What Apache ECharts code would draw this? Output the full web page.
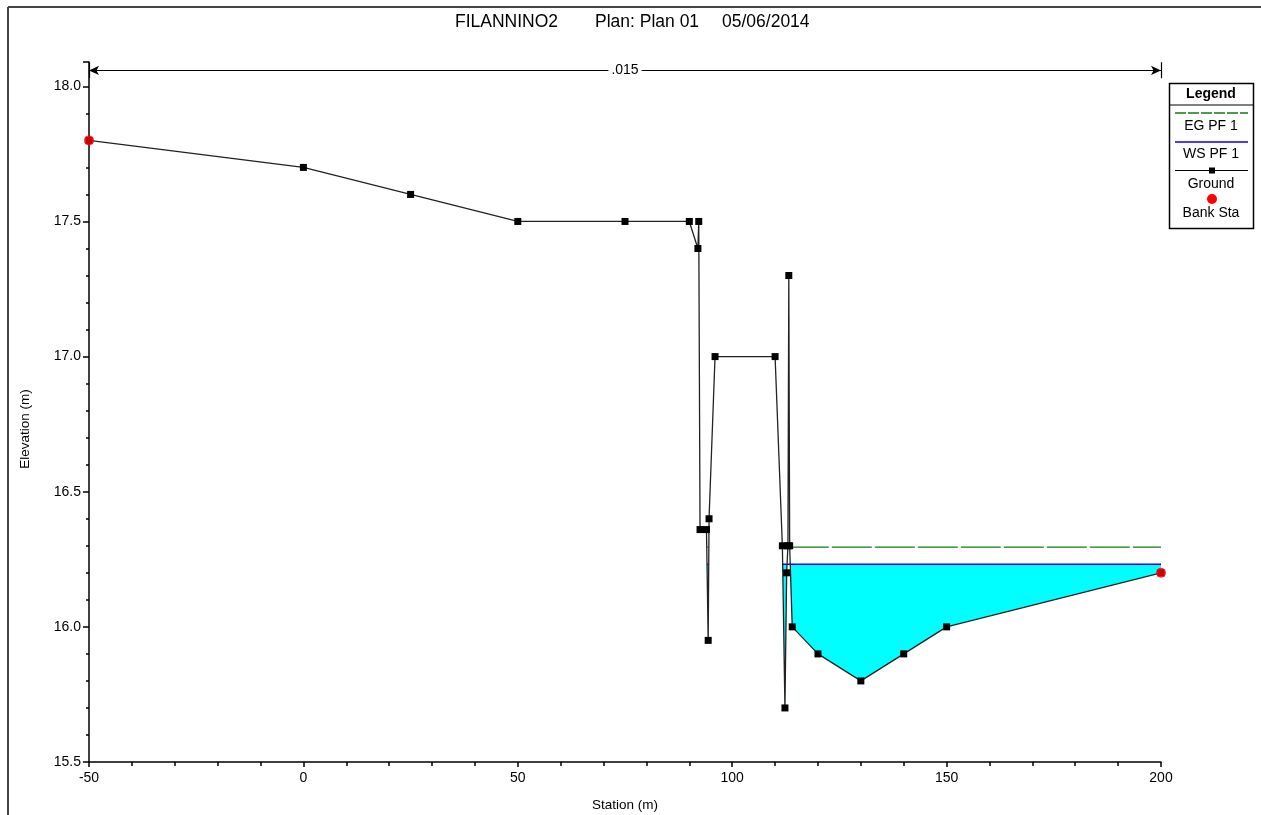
<!DOCTYPE html>
<html>
<head>
<meta charset="utf-8">
<script src="https://cdn.jsdelivr.net/npm/echarts@6/dist/echarts.min.js"></script>
<style>html,body{margin:0;padding:0;background:#fff;}#c{width:1261px;height:815px;}</style>
</head>
<body>
<div id="c"></div>
<script>
// ---- data ----
var groundStation = [-50, 0, 25, 50, 75, 90, 92, 92.2, 92.5, 94, 94.4, 94.6, 96, 110, 111.7, 112.3, 112.7, 113.0, 113.2, 113.4, 114, 120, 130, 140, 150, 200];
var groundElev    = [17.8, 17.7, 17.6, 17.5, 17.5, 17.5, 17.4, 17.5, 16.36, 16.36, 15.95, 16.4, 17.0, 17.0, 16.3, 15.7, 16.2, 16.3, 17.3, 16.3, 16.0, 15.9, 15.8, 15.9, 16.0, 16.2];
var bankStation = [-50, 200];
var bankElev    = [17.8, 16.2];
var wsElev = 16.232;          // WS PF 1
var egElev = 16.295;          // EG PF 1
var wsReaches = [[94.125, 94.525], [111.77, 200]];
var egReaches = [[94.2, 94.5], [113.2, 200]];
// water polygons (station, elevation)
var waterPolys = [
  [[94.125, 16.232], [94.4, 15.95], [94.525, 16.232]],
  [[111.77, 16.232], [112.3, 15.7], [112.7, 16.2], [112.8, 16.232]],
  [[113.54, 16.232], [200, 16.232], [200, 16.2], [150, 16.0], [140, 15.9], [130, 15.8], [120, 15.9], [114, 16.0]]
];
var manningN = '.015';
var nStart = -50, nEnd = 200;
var xTicks = {min: -50, max: 200, interval: 50};
var yTicks = {min: 15.5, max: 18.09, interval: 0.5};

var FONT = '"Liberation Sans", Arial, sans-serif';

function pairs(xs, ys) { return xs.map(function (x, i) { return [x, ys[i]]; }); }

var series = [];
series.push({
  type: 'custom', name: 'water', z: 1, silent: true,
  coordinateSystem: 'cartesian2d',
  data: waterPolys.map(function (p, i) { return [p[0][0], p[0][1], i]; }),
  renderItem: function (params, api) {
    var poly = waterPolys[params.dataIndex];
    return {
      type: 'polygon',
      shape: { points: poly.map(function (pt) { return api.coord(pt); }) },
      style: { fill: '#00ffff', stroke: null }
    };
  },
  clip: true
});
egReaches.forEach(function (r) {
  series.push({
    type: 'line', name: 'EG PF 1', z: 2, silent: true, symbol: 'none',
    data: [[r[0], egElev], [r[1], egElev]],
    lineStyle: { color: '#0f7f0f', width: 1.3, type: [40, 3] }
  });
});
wsReaches.forEach(function (r) {
  series.push({
    type: 'line', name: 'WS PF 1', z: 2, silent: true, symbol: 'none',
    data: [[r[0], wsElev], [r[1], wsElev]],
    lineStyle: { color: '#0000ff', width: 1.5 }
  });
});
series.push({
  type: 'line', name: 'Ground', z: 3, silent: true,
  data: pairs(groundStation, groundElev),
  symbol: 'rect', symbolSize: 7,
  itemStyle: { color: '#000' },
  lineStyle: { color: '#222', width: 1.3 },
  markLine: {
    silent: true, animation: false,
    symbol: ['arrow', 'arrow'], symbolSize: [7, 10],
    label: { show: false },
    lineStyle: { color: '#000', width: 1.2, type: 'solid' },
    data: [
      [{ coord: [nStart, 18.059] }, { coord: [nEnd, 18.059] }],
      [{ coord: [nStart, 18.089], symbol: 'none' }, { coord: [nStart, 18.03], symbol: 'none' }],
      [{ coord: [nEnd, 18.089], symbol: 'none' }, { coord: [nEnd, 18.03], symbol: 'none' }]
    ]
  }
});
series.push({
  type: 'scatter', name: 'n label', z: 6, silent: true,
  symbol: 'circle', symbolSize: 2,
  itemStyle: { color: 'rgba(255,255,255,0)' },
  data: [[(nStart + nEnd) / 2, 18.059]],
  label: {
    show: true, position: 'inside', formatter: manningN, opacity: 1,
    fontFamily: FONT, fontSize: 14, color: '#000',
    backgroundColor: '#fff', padding: [1, 3]
  }
});
series.push({
  type: 'scatter', name: 'Bank Sta', z: 5, silent: true,
  data: pairs(bankStation, bankElev),
  symbol: 'circle', symbolSize: 10,
  itemStyle: { color: '#ff0000' }
});

var legendX = 1211;
var option = {
  animation: false,
  backgroundColor: '#fff',
  grid: { left: 89, right: 100, top: 62, bottom: 53 },
  xAxis: {
    type: 'value', min: xTicks.min, max: xTicks.max, interval: xTicks.interval,
    axisLine: { onZero: false, lineStyle: { color: '#000', width: 1.5 } },
    axisTick: { show: true, inside: false, length: 5, lineStyle: { color: '#000', width: 1.5 } },
    minorTick: { show: true, splitNumber: 5, length: 4, lineStyle: { color: '#000', width: 1.5 } },
    splitLine: { show: false },
    axisLabel: { color: '#000', fontFamily: FONT, fontSize: 14, margin: 9 }
  },
  yAxis: {
    type: 'value', min: yTicks.min, max: yTicks.max, interval: yTicks.interval,
    axisLine: { show: true, onZero: false, lineStyle: { color: '#000', width: 1.5 } },
    axisTick: { show: true, inside: false, length: 6, lineStyle: { color: '#000', width: 1.5 } },
    minorTick: { show: true, splitNumber: 5, length: 3, lineStyle: { color: '#000', width: 1.5 } },
    splitLine: { show: false },
    axisLabel: {
      color: '#000', fontFamily: FONT, fontSize: 14, margin: 8,
      formatter: function (v) {
        return Math.abs(v * 2 - Math.round(v * 2)) < 1e-6 ? v.toFixed(1) : '';
      }
    }
  },
  series: series,
  graphic: [
    { type: 'line', shape: { x1: 8, y1: 7, x2: 1261, y2: 7 }, style: { stroke: '#444', lineWidth: 2 } },
    { type: 'line', shape: { x1: 8, y1: 7, x2: 8, y2: 815 }, style: { stroke: '#444', lineWidth: 2 } },
    { type: 'text', x: 455, y: 22, style: { text: 'FILANNINO2', font: '17.5px ' + FONT, fill: '#000', verticalAlign: 'middle' } },
    { type: 'text', x: 595, y: 22, style: { text: 'Plan: Plan 01', font: '17.5px ' + FONT, fill: '#000', verticalAlign: 'middle' } },
    { type: 'text', x: 722, y: 22, style: { text: '05/06/2014', font: '17.5px ' + FONT, fill: '#000', verticalAlign: 'middle' } },
    { type: 'text', x: 25, y: 429, rotation: Math.PI / 2, style: { text: 'Elevation (m)', font: '13.5px ' + FONT, fill: '#000', align: 'center', verticalAlign: 'middle' } },
    { type: 'text', x: 625, y: 805, style: { text: 'Station (m)', font: '13.5px ' + FONT, fill: '#000', align: 'center', verticalAlign: 'middle' } },
    { type: 'rect', z: 10, shape: { x: 1169.5, y: 83.5, width: 84, height: 145 }, style: { fill: '#fff', stroke: '#000', lineWidth: 1.5 } },
    { type: 'line', z: 11, shape: { x1: 1169.5, y1: 105, x2: 1253.5, y2: 105 }, style: { stroke: '#000', lineWidth: 1.2 } },
    { type: 'text', z: 11, x: legendX, y: 94, style: { text: 'Legend', font: 'bold 14px ' + FONT, fill: '#000', align: 'center', verticalAlign: 'middle' } },
    { type: 'line', z: 11, shape: { x1: 1175, y1: 113, x2: 1248, y2: 113 }, style: { stroke: '#0f7f0f', lineWidth: 1.3, lineDash: [11, 2] } },
    { type: 'text', z: 11, x: legendX, y: 126, style: { text: 'EG PF 1', font: '14px ' + FONT, fill: '#000', align: 'center', verticalAlign: 'middle' } },
    { type: 'line', z: 11, shape: { x1: 1175, y1: 142, x2: 1248, y2: 142 }, style: { stroke: '#0000ff', lineWidth: 1.5 } },
    { type: 'text', z: 11, x: legendX, y: 154, style: { text: 'WS PF 1', font: '14px ' + FONT, fill: '#000', align: 'center', verticalAlign: 'middle' } },
    { type: 'line', z: 11, shape: { x1: 1175, y1: 170.5, x2: 1248, y2: 170.5 }, style: { stroke: '#000', lineWidth: 1.2 } },
    { type: 'rect', z: 12, shape: { x: 1209, y: 167.5, width: 6, height: 6 }, style: { fill: '#000' } },
    { type: 'text', z: 11, x: legendX, y: 184, style: { text: 'Ground', font: '14px ' + FONT, fill: '#000', align: 'center', verticalAlign: 'middle' } },
    { type: 'circle', z: 11, shape: { cx: 1212, cy: 199, r: 5 }, style: { fill: '#ff0000' } },
    { type: 'text', z: 11, x: legendX, y: 213, style: { text: 'Bank Sta', font: '14px ' + FONT, fill: '#000', align: 'center', verticalAlign: 'middle' } }
  ]
};

var chart = echarts.init(document.getElementById('c'), null, { renderer: 'canvas' });
chart.setOption(option);
</script>
</body>
</html>
